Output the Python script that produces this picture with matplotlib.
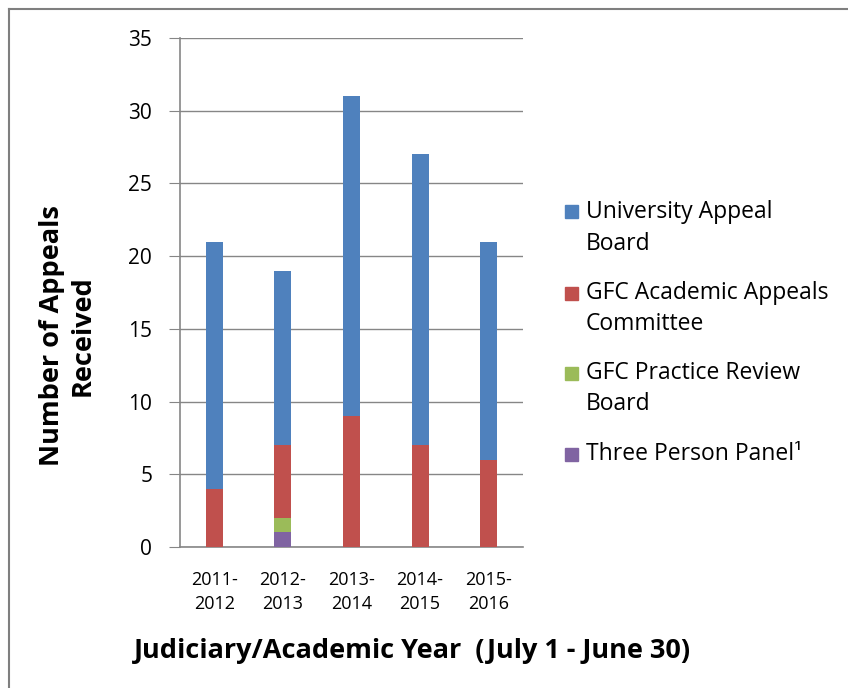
import matplotlib
matplotlib.use('Agg')
import matplotlib.pyplot as plt
import numpy as np
from matplotlib.lines import Line2D
from matplotlib.patches import Rectangle

plt.rcParams['font.family'] = ['Open Sans', 'DejaVu Sans']

years = ['2011-\n2012', '2012-\n2013', '2013-\n2014', '2014-\n2015', '2015-\n2016']
three_person = [0, 1, 0, 0, 0]
practice_review = [0, 1, 0, 0, 0]
gfc_academic = [4, 5, 9, 7, 6]
university = [17, 12, 22, 20, 15]

series_labels = ['University Appeal\nBoard', 'GFC Academic Appeals\nCommittee',
                 'GFC Practice Review\nBoard', 'Three Person Panel\u00b9']

BLUE = '#4F81BD'
RED = '#C0504D'
GREEN = '#9BBB59'
PURPLE = '#8064A2'
GRID = '#868686'

W, H = 848, 688
fig = plt.figure(figsize=(W / 100, H / 100), dpi=100)
ax = fig.add_axes([180 / W, 1 - 547 / H, 343 / W, 509 / H])

x = np.arange(len(years))
w = 0.25
bottom = np.zeros(len(years))
for vals, col in [(three_person, PURPLE), (practice_review, GREEN),
                  (gfc_academic, RED), (university, BLUE)]:
    ax.bar(x, vals, w, bottom=bottom, color=col, zorder=3)
    bottom += np.array(vals)

ax.set_xlim(-0.5, len(years) - 0.5)
ax.set_ylim(0, 35)
ax.set_yticks(range(0, 36, 5))
ax.yaxis.grid(True, color=GRID, lw=1)
ax.set_axisbelow(True)
for s in ['top', 'right']:
    ax.spines[s].set_visible(False)
for s in ['left', 'bottom']:
    ax.spines[s].set_color(GRID)
    ax.spines[s].set_linewidth(1.2)
ax.tick_params(axis='y', length=8, color=GRID, labelsize=15, pad=12)
ax.tick_params(axis='x', length=0, labelsize=13, pad=17)
ax.set_xticks(x)
ax.set_xticklabels(years, linespacing=1.45)

ax.set_ylabel('Number of Appeals\nReceived', fontsize=19.5, fontweight='bold',
              linespacing=1.25)
ax.yaxis.set_label_coords(-0.245, 0.415)
fig.text(413 / W, 1 - 651 / H, 'Judiciary/Academic Year  (July 1 - June 30)',
         fontsize=19.5, fontweight='bold', ha='center', va='center')

# legend drawn by hand so the swatch sits beside the first line
colors = [BLUE, RED, GREEN, PURPLE]
entry_y = [212, 293, 373, 454]
for lab, col, y0 in zip(series_labels, colors, entry_y):
    fig.add_artist(Rectangle((565 / W, 1 - (y0 + 6.5) / H), 13 / W, 13 / H,
                             color=col, transform=fig.transFigure))
    for i, line in enumerate(lab.split('\n')):
        fig.text(586 / W, 1 - (y0 + i * 31.5) / H, line, fontsize=16.5,
                 ha='left', va='center')

# outer frame edges (top and left visible)
fig.add_artist(Line2D([9 / W, 1], [1 - 9 / H, 1 - 9 / H], color='#7F7F7F', lw=1.5))
fig.add_artist(Line2D([9 / W, 9 / W], [0, 1 - 9 / H], color='#7F7F7F', lw=1.5))

fig.savefig('out.png', dpi=100)
